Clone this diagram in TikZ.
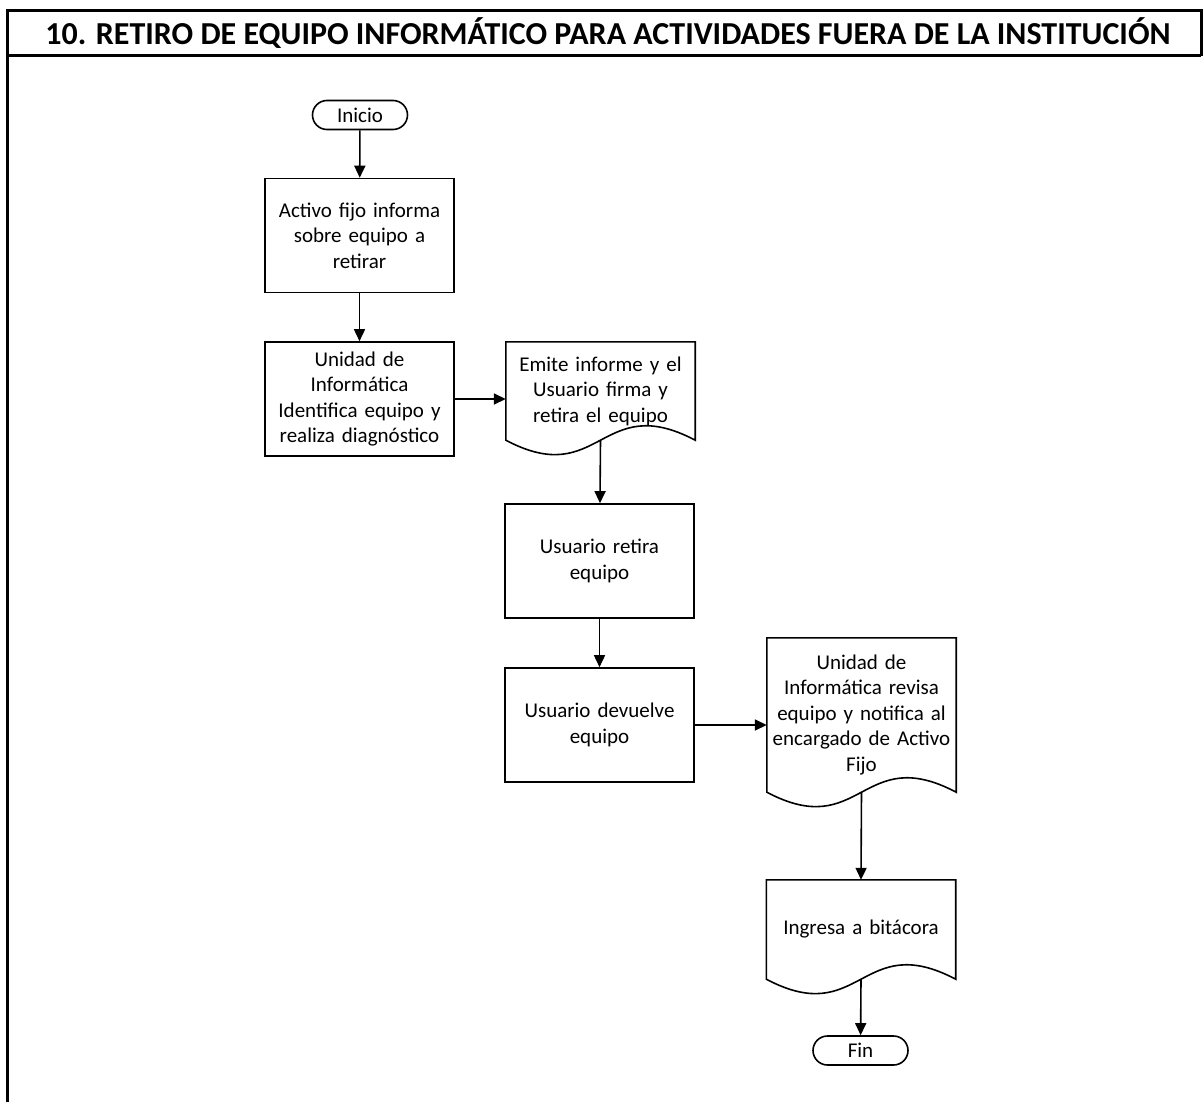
\documentclass[tikz,border=0pt]{standalone}
\usepackage{fontspec}
\setmainfont{Carlito}
\usetikzlibrary{arrows.meta,calc}
\begin{document}
\begin{tikzpicture}[x=1pt,y=-1pt,
  shapeline/.style={draw=black,line width=1.6pt},
  bodyfont/.style={font=\fontsize{21}{25.5}\selectfont},
  proc/.style={shapeline,bodyfont,minimum width=189pt,minimum height=114pt,
    text width=180pt,align=center,inner sep=0pt},
  term/.style={shapeline,bodyfont,rounded corners=14.5pt,minimum width=95pt,
    minimum height=29pt,inner sep=0pt},
  docbox/.style={bodyfont,minimum width=189pt,text width=180pt,align=center,
    inner sep=0pt},
  flow/.style={line width=1.6pt,-{Triangle[length=12pt,width=11pt]}},
  frameline/.style={line width=3pt}]
\useasboundingbox (0,0) rectangle (1203,1102);

% table frame and title row
\draw[frameline] (7,1102) -- (7,11) -- (1201,11) -- (1201,56);
\draw[frameline] (7,56) -- (1201,56);
\node[anchor=base,font=\fontsize{32}{38}\selectfont\bfseries] (title) at (608,45)
  {10. RETIRO DE EQUIPO INFORMÁTICO PARA ACTIVIDADES FUERA DE LA INSTITUCIÓN};

% flowchart nodes
\node[term] (ini) at (360,115) {Inicio};
\node[proc] (b1) at (359.5,235.5) {Activo fijo informa\\sobre equipo a\\retirar};
\node[proc] (b2) at (359.5,399) {Unidad de\\Informática\\Identifica equipo y\\realiza diagnóstico};
\node[docbox,minimum height=98pt] (d1) at (600.5,391) {Emite informe y el\\Usuario firma y\\retira el equipo};
\node[proc] (b3) at (599.5,561) {Usuario retira\\equipo};
\node[proc] (b4) at (599.5,725) {Usuario devuelve\\equipo};
\node[docbox,minimum height=154pt] (d2) at (861.5,715) {Unidad de\\Informática revisa\\equipo y notifica al\\encargado de Activo\\Fijo};
\node[docbox,minimum height=99pt] (d3) at (861,929.5) {Ingresa a bitácora};
\node[term] (fin) at (860.5,1050.5) {Fin};

% document outlines with wavy bottom edge
\foreach \d in {d1,d2,d3}
  \draw[shapeline] (\d.south west) -- (\d.north west) -- (\d.north east) -- (\d.south east)
    .. controls ($(\d.south)+(0pt,50pt)$) and ($(\d.south)+(0pt,-50pt)$) .. (\d.south west) -- cycle;

% connectors
\draw[flow] (ini) -- (b1);
\draw[flow] (b1) -- (b2);
\draw[flow] (b2.east) -- (b2.east -| d1.west);
\draw[flow] (d1.south) -- (b3);
\draw[flow] (b3) -- (b4);
\draw[flow] (b4.east) -- (b4.east -| d2.west);
\draw[flow] (d2.south) -- (d3.north);
\draw[flow] (d3.south) -- (fin);
\end{tikzpicture}
\end{document}
